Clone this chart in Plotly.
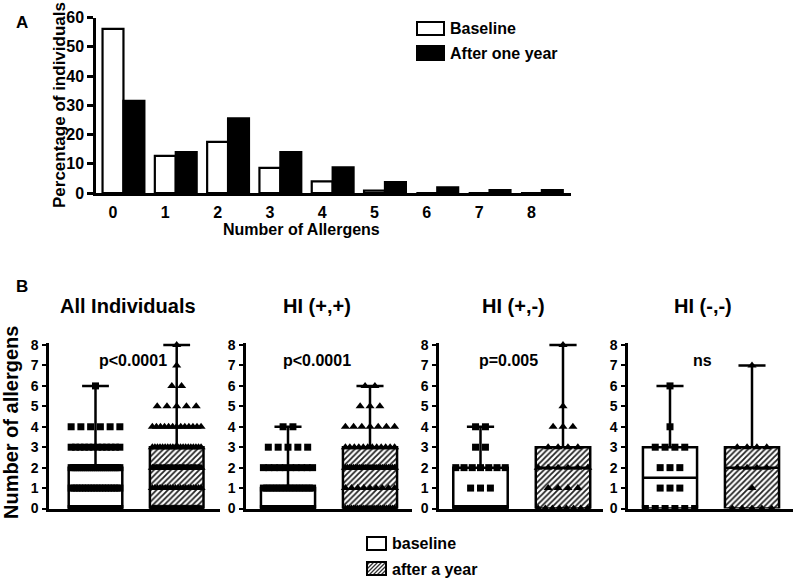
import plotly.graph_objects as go

W, H = 797, 580


def px(x):
    return x / W


def py(y):
    return 1 - y / H


# ---------------- Panel A data ----------------
allergen_numbers = [0, 1, 2, 3, 4, 5, 6, 7, 8]
baseline_pct = [56.1, 12.7, 17.5, 8.6, 4.0, 0.8, 0, 0, 0]
after_year_pct = [31.5, 14.0, 25.5, 14.0, 8.8, 3.7, 1.9, 1.0, 1.0]
pct_ticks = [0, 10, 20, 30, 40, 50, 60]

# ---------------- Panel B data ----------------
group_titles = ["All Individuals", "HI (+,+)", "HI (+,-)", "HI (-,-)"]
p_values = ["p<0.0001", "p<0.0001", "p=0.005", "ns"]
levels = [0, 1, 2, 3, 4, 5, 6, 7, 8]

# individuals at each number of allergens (0..8)
all_base_n = [80, 18, 25, 12, 6, 0, 1, 0, 0]
all_after_n = [45, 20, 37, 20, 13, 5, 2, 1, 1]
pp_base_n = [40, 16, 10, 5, 2, 0, 0, 0, 0]
pp_after_n = [25, 9, 25, 12, 7, 3, 2, 0, 0]
pm_base_n = [14, 3, 7, 2, 2, 0, 0, 0, 0]
pm_after_n = [8, 4, 6, 4, 3, 1, 0, 0, 1]
mm_base_n = [6, 3, 3, 4, 1, 0, 1, 0, 0]
mm_after_n = [5, 1, 4, 4, 0, 0, 0, 1, 0]

# box statistics per group
base_min = [0, 0, 0, 0]
base_q1 = [0, 0, 0, 0]
base_median = [0, 0, 0, 1.5]
base_q3 = [2, 1, 2, 3]
base_max = [6, 4, 4, 6]
after_min = [0, 0, 0, 0]
after_q1 = [0, 0, 0, 0]
after_median = [2, 2, 2, 2]
after_q3 = [3, 3, 3, 3]
after_max = [8, 6, 8, 7]

base_counts = [all_base_n, pp_base_n, pm_base_n, mm_base_n]
after_counts = [all_after_n, pp_after_n, pm_after_n, mm_after_n]

FONT = "Liberation Sans, Arial, Helvetica, sans-serif"
BOX_W = 0.66


def bold(vals):
    return ["<b>%s</b>" % v for v in vals]


def row_offsets(n, step=0.12, maxw=0.6):
    if n <= 0:
        return []
    if n == 1:
        return [0.0]
    s = min(step, maxw / (n - 1))
    return [(i - (n - 1) / 2) * s for i in range(n)]


fig = go.Figure()

# ---------- Panel A bars ----------
fig.add_trace(go.Bar(
    x=allergen_numbers, y=baseline_pct, width=0.4, offset=-0.2,
    marker=dict(color="white", line=dict(color="black", width=2.2)),
    xaxis="x", yaxis="y", name="Baseline"))
fig.add_trace(go.Bar(
    x=allergen_numbers, y=after_year_pct, width=0.4, offset=0.2,
    marker=dict(color="black", line=dict(color="black", width=2.2)),
    xaxis="x", yaxis="y", name="After one year"))

# ---------- Panel B ----------
b_axis_px = [(49, 220), (246, 412), (439, 603), (628, 793)]
b_center_px = [(95.5, 176.7), (288, 370), (480.5, 563), (670, 752)]

for i in range(4):
    xa = "x%d" % (i + 2)
    ya = "y%d" % (i + 2)
    fig.add_trace(go.Bar(
        x=[0, 1], base=[base_q1[i], after_q1[i]],
        y=[base_q3[i] - base_q1[i], after_q3[i] - after_q1[i]],
        width=BOX_W, offset=-BOX_W / 2, cliponaxis=False,
        marker=dict(color="white", line=dict(width=0),
                    pattern=dict(shape=["", "/"], fgcolor="#222222",
                                 bgcolor="white", size=4, solidity=0.45)),
        xaxis=xa, yaxis=ya))
    fig.add_trace(go.Box(
        x=[0, 1],
        lowerfence=[base_min[i], after_min[i]],
        q1=[base_q1[i], after_q1[i]],
        median=[base_median[i], after_median[i]],
        q3=[base_q3[i], after_q3[i]],
        upperfence=[base_max[i], after_max[i]],
        width=BOX_W, whiskerwidth=0.5, boxpoints=False,
        fillcolor="rgba(0,0,0,0)", line=dict(color="black", width=2.5),
        xaxis=xa, yaxis=ya))
    for k, counts in enumerate([base_counts[i], after_counts[i]]):
        xs, ys = [], []
        for lev, n in zip(levels, counts):
            for off in row_offsets(n):
                xs.append(k + off)
                ys.append(lev)
        fig.add_trace(go.Scatter(
            x=xs, y=ys, mode="markers", cliponaxis=False,
            marker=dict(symbol="square" if k == 0 else "triangle-up",
                        size=7 if k == 0 else 8, color="black",
                        line=dict(width=0)),
            xaxis=xa, yaxis=ya))

layout = dict(
    template="none",
    width=W, height=H, margin=dict(l=0, r=0, t=0, b=0, pad=0),
    plot_bgcolor="white", paper_bgcolor="white", showlegend=False,
    barmode="overlay", font=dict(family=FONT, color="black"),
)

ax_common = dict(showgrid=False, zeroline=False, showline=True,
                 linecolor="black", linewidth=2.5, automargin=False)

# Panel A axes
a_x0, a_x1, a_c0, a_sp = 96, 571, 113, 52.3
layout["xaxis"] = dict(
    ax_common, domain=[px(a_x0), px(a_x1)],
    range=[(a_x0 - a_c0) / a_sp, (a_x1 - a_c0) / a_sp],
    tickvals=allergen_numbers, ticktext=bold(allergen_numbers),
    ticks="", ticklabelstandoff=3,
    tickfont=dict(size=16, family=FONT, color="black"), anchor="y")
layout["yaxis"] = dict(
    ax_common, domain=[py(193), py(17.5)], range=[0, 60],
    tickvals=pct_ticks, ticktext=bold(pct_ticks),
    ticks="outside", ticklen=6, tickwidth=2.5, tickcolor="black",
    tickfont=dict(size=16, family=FONT, color="black"), anchor="x")

# Panel B axes
for i in range(4):
    d0, d1 = b_axis_px[i]
    c0, c1 = b_center_px[i]
    sp = c1 - c0
    layout["xaxis%d" % (i + 2)] = dict(
        ax_common, domain=[px(d0), px(d1)],
        range=[(d0 - c0) / sp, (d1 - c0) / sp],
        ticks="", showticklabels=False, anchor="y%d" % (i + 2))
    layout["yaxis%d" % (i + 2)] = dict(
        ax_common, domain=[py(508.5), py(343)], range=[0, 8.1],
        tickvals=levels, ticktext=bold(levels),
        ticks="outside", ticklen=4, tickwidth=2,
        tickcolor="black", ticklabelstandoff=1,
        tickfont=dict(size=14, family=FONT, color="black"),
        anchor="x%d" % (i + 2))

fig.update_layout(**layout)


def ann(text, x, y, size, angle=0, xanchor="center"):
    fig.add_annotation(
        text="<b>%s</b>" % text, x=px(x), y=py(y), xref="paper", yref="paper",
        showarrow=False, xanchor=xanchor, yanchor="middle",
        textangle=angle,
        font=dict(size=size, family=FONT, color="black"))


# Panel labels and titles
ann("A", 22, 22.5, 17)
ann("B", 22, 286, 17)
ann("Percentage of individuals", 60, 105, 17, angle=-90)
ann("Number of Allergens", 301, 229, 16)
ann("Number of allergens", 11, 423, 20, angle=-90)

title_x = [128, 317, 513, 703]
p_x = [133, 317, 508, 702]
for i in range(4):
    ann(group_titles[i], title_x[i], 305.5, 20)
    ann(p_values[i], p_x[i], 360, 16)

# Panel A legend
shapes = []


def rect(x0, y0, x1, y1, fill, lw=2):
    shapes.append(dict(type="rect", xref="paper", yref="paper",
                       x0=px(x0), x1=px(x1), y0=py(y1), y1=py(y0),
                       fillcolor=fill, line=dict(color="black", width=lw)))


rect(417, 22, 444, 35, "white")
rect(417, 46, 444, 60, "black")
ann("Baseline", 448, 28.5, 16, xanchor="left")
ann("After one year", 448, 53, 16, xanchor="left")

# Panel B legend
rect(367, 537, 386, 550, "white")
hx0, hy0, hx1, hy1 = 367, 562, 386, 575
rect(hx0, hy0, hx1, hy1, "white")
path = ""
c = hx0 + hy0 + 3
while c < hx1 + hy1:
    xa_ = max(hx0, c - hy1)
    xb_ = min(hx1, c - hy0)
    if xb_ > xa_:
        path += "M%.5f,%.5f L%.5f,%.5f " % (px(xa_), py(c - xa_), px(xb_), py(c - xb_))
    c += 4
shapes.append(dict(type="path", xref="paper", yref="paper", path=path,
                   line=dict(color="#333333", width=1.3)))
rect(hx0, hy0, hx1, hy1, "rgba(0,0,0,0)")
ann("baseline", 390, 543.5, 16, xanchor="left")
ann("after a year", 390, 569, 16, xanchor="left")

fig.update_layout(shapes=shapes)

fig.write_html(
    "out.html",
    config={"displayModeBar": False},
    post_script="document.body.style.margin='0px';document.body.style.overflow='hidden';")
